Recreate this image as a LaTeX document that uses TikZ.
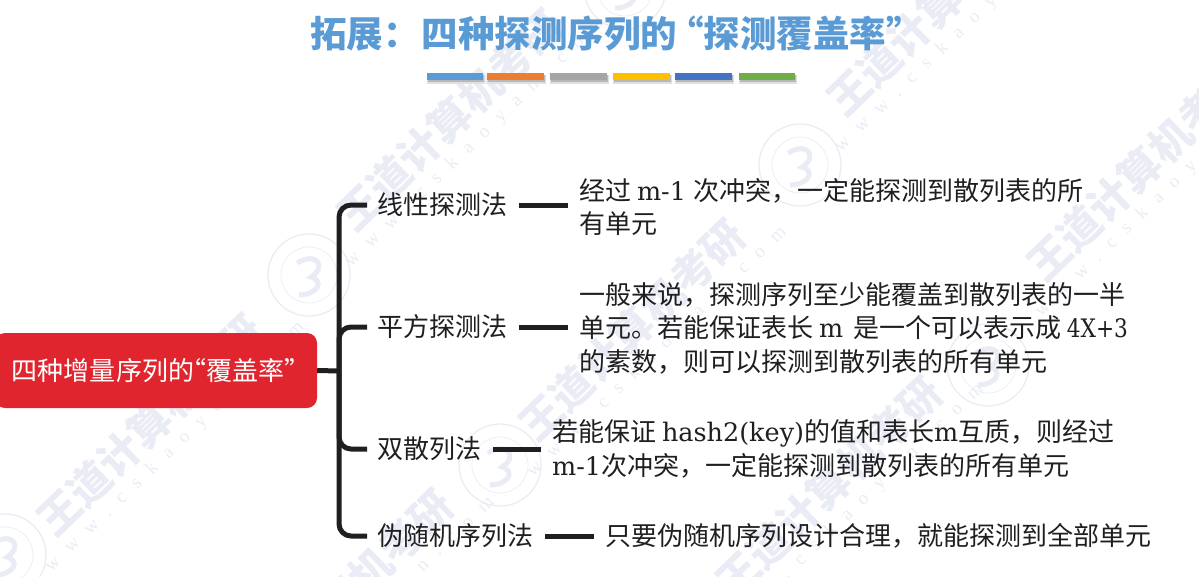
\documentclass[tikz,border=0pt]{standalone}
\usepackage{fontspec}
\setmainfont{Noto Sans CJK SC}
\newfontfamily\latfont[Scale=0.98]{DejaVu Serif}
\newfontfamily\latnarrow[Scale=0.98,FakeStretch=0.85]{DejaVu Serif}
\newfontfamily\wmfont[LetterSpace=70]{Liberation Serif}
\newfontfamily\wmcjk{Noto Sans CJK SC Black}
\newcommand{\lat}[1]{{\latfont #1}}
\definecolor{wmc}{HTML}{E9ECF4}
\definecolor{ink}{HTML}{1F1F22}
\definecolor{rootred}{HTML}{E1252F}
\definecolor{titleblue}{HTML}{5B9BD5}
\tikzset{
  link/.style={draw=ink,line width=5pt,line cap=butt,line join=round},
  leaf/.style={link,shorten <=12pt,shorten >=11pt},
  branchlabel/.style={inner sep=0pt,anchor=west,text=ink,font=\fontsize{26pt}{33.5pt}\selectfont},
  detail/.style={branchlabel,align=left},
  rootbox/.style={fill=rootred,rounded corners=10pt,minimum width=322pt,minimum height=75pt,inner sep=0pt,text=white,font=\fontsize{26pt}{30pt}\selectfont},
  titletext/.style={inner sep=0pt,anchor=west,text=titleblue,font=\fontsize{36.5pt}{40pt}\selectfont\bfseries},
  wmband/.style={inner sep=0pt,text=wmc,rotate=44,font=\fontsize{42pt}{44pt}\selectfont\wmcjk},
  wmurl/.style={inner sep=0pt,text=wmc,rotate=44,font=\fontsize{19pt}{21pt}\selectfont\wmfont},
  seal/.style={draw=wmc,line width=1.3pt,fill=none},
  bar/.style={minimum height=7pt,inner sep=0pt,anchor=north west},
}
\newcommand{\wmark}[2]{%
  \node[wmband] at (#1,#2) {王道计算机考研};
  \node[wmurl] at ({#1+25},{#2+22}) {www.cskaoyan.com};
}
\newcommand{\sealmark}[2]{%
  \draw[seal] (#1,#2) circle[radius=41pt];
  \draw[seal,line width=.7pt] (#1,#2) circle[radius=28pt];
  \draw[seal,line width=5pt] ({#1-12},{#2-12}) .. controls ({#1+8},{#2-24}) and ({#1+18},{#2-8}) .. ({#1+2},{#2+2}) .. controls ({#1+16},{#2+6}) and ({#1+8},{#2+20}) .. ({#1-10},{#2+20});
}
\begin{document}
\begin{tikzpicture}[x=1pt,y=-1pt]
\useasboundingbox (0,0) rectangle (1199,576);
\clip (0,0) rectangle (1199,576);
% watermark
\wmark{150}{425}
\wmark{450}{120}
\wmark{632}{330}
\wmark{940}{5}
\wmark{1140}{170}
\wmark{829}{487}
\wmark{340}{600}
\sealmark{309}{275}
\sealmark{800}{165}
\sealmark{500}{465}
\sealmark{988}{365}
\sealmark{625}{-12}
\sealmark{5}{555}
% title
\node[titletext] (title) at (310,34) {拓展：\hspace{2pt}四种探测序列的\hspace{-10pt}“探测覆盖率”};
% colour bars
\foreach \xa/\w/\c/\n in {427/56/5B9BD5/a,487/57/ED7D31/b,550/57/A5A5A5/c,613/57/FFC000/d,675/57/4472C4/e,739/56/70AD47/f}{
  \definecolor{barc}{HTML}{\c}
  \fill[black!12] (\xa,75) rectangle (\xa+\w+2,84);
  \fill[black!28] (\xa+1,75) rectangle (\xa+\w+1,82);
  \node[bar,fill=barc,minimum width=\w pt] (bar\n) at (\xa,73) {};
}
% root
\node[rootbox] (root) at (156,370.5) {\hspace{-4pt}四种增量序列的\hspace{-14pt}“覆盖率”\hspace{-14pt}\hspace{4pt}};
% branches
\coordinate (hub) at (339,371);
\node[branchlabel] (b1) at (377,205) {线性探测法};
\node[branchlabel] (b2) at (377,327) {平方探测法};
\node[branchlabel] (b3) at (377,449) {双散列法};
\node[branchlabel] (b4) at (377,536) {伪随机序列法};
\node[detail] (d1) at (579,207) {经过 \lat{m-1}\hspace{2pt} 次冲突，一定能探测到散列表的所\\有单元};
\node[detail] (d2) at (579,328) {一般来说，探测序列至少能覆盖到散列表的一半\\单元。若能保证表长 \lat{m}\hspace{4pt} 是一个可以表示成 {\latnarrow 4X+3}\\的素数，则可以探测到散列表的所有单元};
\node[detail] (d3) at (552,449) {若能保证 \lat{hash2(key)}的值和表长\lat{m}互质，则经过\\\lat{m-1}次冲突，一定能探测到散列表的所有单元};
\node[detail] (d4) at (605,536) {只要伪随机序列设计合理，就能探测到全部单元};
% connectors
\draw[link] (root.east) -- (hub);
\foreach \b in {b1,b2,b3,b4}{
  \draw[link,rounded corners=12pt,shorten >=10pt] (hub) |- (\b.west);
}
\foreach \b/\d in {b1/d1,b2/d2,b3/d3,b4/d4}{
  \draw[leaf] (\b.east) -- (\b.east -| \d.west);
}
\end{tikzpicture}
\end{document}
